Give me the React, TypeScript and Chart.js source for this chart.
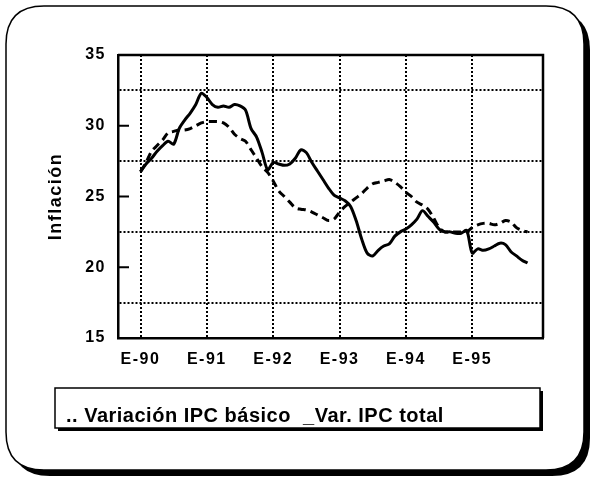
import React, { useEffect, useRef } from 'react';
import { Chart, registerables } from 'chart.js';

Chart.register(...registerables);

// Monthly values, January 1990 (index 0) to November 1995 (index 70)
const ipcBasico = [
  26.75, 27.4, 28.2, 28.6, 29.0, 29.5, 29.6, 29.7, 29.7, 29.8, 30.0, 30.2,
  30.3, 30.3, 30.3, 30.2, 29.9, 29.4, 29.1, 28.9, 28.3, 27.7, 27.1, 26.7,
  26.1, 25.4, 25.0, 24.6, 24.2, 24.1, 24.05, 23.9, 23.7, 23.5, 23.3, 23.4,
  23.9, 24.3, 24.6, 24.9, 25.2, 25.6, 25.9, 26.0, 26.1, 26.2, 26.0, 25.7,
  25.3, 25.0, 24.6, 24.4, 24.1, 23.5, 22.8, 22.5, 22.5, 22.5, 22.5, 22.5,
  22.8, 23.0, 23.1, 23.1, 23.0, 23.1, 23.3, 23.2, 22.8, 22.6, 22.5,
];
const ipcTotal = [
  26.75, 27.3, 27.7, 28.2, 28.6, 28.9, 28.7, 29.8, 30.4, 30.9, 31.5, 32.3,
  32.0, 31.5, 31.3, 31.4, 31.3, 31.5, 31.4, 31.1, 29.8, 29.2, 28.1, 26.9,
  27.4, 27.3, 27.2, 27.3, 27.7, 28.3, 28.1, 27.4, 26.8, 26.2, 25.6, 25.1,
  24.9, 24.7, 24.3, 23.3, 22.0, 21.0, 20.8, 21.2, 21.5, 21.65, 22.2, 22.5,
  22.7, 23.0, 23.4, 24.0, 23.6, 23.2, 22.7, 22.5, 22.5, 22.4, 22.4, 22.6,
  21.0, 21.3, 21.2, 21.3, 21.5, 21.7, 21.6, 21.1, 20.8, 20.5, 20.3,
];
const seriesLabels = ['Variación IPC básico', 'Var. IPC total'];
const legendMarks = ['..', '_'];
const yearTickMonths = [0, 12, 24, 36, 48, 60];
const yearTickLabels = ['E-90', 'E-91', 'E-92', 'E-93', 'E-94', 'E-95'];
const yTickValues = [15, 17.5, 20, 22.5, 25, 27.5, 30, 32.5, 35];
const yLabelValues = [15, 20, 25, 30, 35];
const yTitle = 'Inflación';

const FONT = "'Liberation Sans', Arial, sans-serif";

function roundRect(ctx: CanvasRenderingContext2D, x: number, y: number, w: number, h: number, r: number) {
  ctx.beginPath();
  ctx.moveTo(x + r, y);
  ctx.lineTo(x + w - r, y);
  ctx.quadraticCurveTo(x + w, y, x + w, y + r);
  ctx.lineTo(x + w, y + h - r);
  ctx.quadraticCurveTo(x + w, y + h, x + w - r, y + h);
  ctx.lineTo(x + r, y + h);
  ctx.quadraticCurveTo(x, y + h, x, y + h - r);
  ctx.lineTo(x, y + r);
  ctx.quadraticCurveTo(x, y, x + r, y);
  ctx.closePath();
}

const framePlugin = {
  id: 'frame',
  beforeDraw(chart: any) {
    const ctx: CanvasRenderingContext2D = chart.ctx;
    ctx.save();
    ctx.fillStyle = '#fff';
    ctx.fillRect(0, 0, chart.width, chart.height);
    // shadow
    roundRect(ctx, 12, 12, 578, 464, 38);
    ctx.fillStyle = '#000';
    ctx.fill();
    roundRect(ctx, 6, 6, 578, 464, 38);
    ctx.fillStyle = '#fff';
    ctx.fill();
    ctx.lineWidth = 1.5;
    ctx.strokeStyle = '#000';
    ctx.stroke();

    // legend box
    const lx = 55, ly = 388, lw = 485, lh = 40;
    ctx.fillStyle = '#000';
    ctx.fillRect(lx + 3, ly + 3, lw, lh);
    ctx.fillStyle = '#fff';
    ctx.fillRect(lx, ly, lw, lh);
    ctx.lineWidth = 1.5;
    ctx.strokeRect(lx, ly, lw, lh);
    ctx.fillStyle = '#000';
    ctx.font = `bold 20px ${FONT}`;
    (ctx as any).letterSpacing = '0.5px';
    ctx.textBaseline = 'alphabetic';
    ctx.textAlign = 'left';
    const labels = chart.data.datasets.map((d: any) => d.label);
    let x = lx + 11;
    const y = ly + 34;
    const t1 = legendMarks[0] + ' ' + labels[0] + '  ';
    ctx.fillText(t1, x, y);
    x += ctx.measureText(t1).width;
    const t2 = legendMarks[1] + labels[1];
    ctx.fillText(t2, x, y);
    ctx.restore();
    (ctx as any).letterSpacing = '1.5px';
  },
  afterDraw(chart: any) {
    const ctx: CanvasRenderingContext2D = chart.ctx;
    (ctx as any).letterSpacing = '0px';
    const { left, right, top, bottom } = chart.chartArea;
    const ys = chart.scales.y;
    ctx.save();
    ctx.strokeStyle = '#000';
    ctx.lineWidth = 2.5;
    ctx.beginPath();
    ctx.moveTo(left, top);
    ctx.lineTo(right, top);
    ctx.lineTo(right, bottom);
    ctx.stroke();
    ctx.lineWidth = 2;
    ctx.beginPath();
    for (const v of yLabelValues) {
      if (v === 15 || v === 35) continue;
      const py = ys.getPixelForValue(v);
      ctx.moveTo(left, py);
      ctx.lineTo(left + 11, py);
    }
    ctx.stroke();
    ctx.restore();
  },
};

export default function App() {
  const ref = useRef<HTMLCanvasElement>(null);
  useEffect(() => {
    document.body.style.margin = '0';
    const canvas = ref.current!;
    const tickFont = { family: FONT, weight: 'bold' as const, size: 16 };
    const chart = new Chart(canvas, {
      type: 'line',
      data: {
        datasets: [
          {
            label: seriesLabels[0],
            data: ipcBasico.map((v, i) => ({ x: i, y: v })),
            borderColor: '#000',
            borderWidth: 3,
            borderDash: [8, 5],
            pointRadius: 0,
            tension: 0.3,
          },
          {
            label: seriesLabels[1],
            data: ipcTotal.map((v, i) => ({ x: i, y: v })),
            borderColor: '#000',
            borderWidth: 3,
            pointRadius: 0,
            tension: 0.3,
          },
        ],
      },
      options: {
        animation: false,
        responsive: false,
        layout: { padding: { left: 0, top: 55, right: 62, bottom: 106 } },
        plugins: { legend: { display: false }, tooltip: { enabled: false } },
        scales: {
          x: {
            type: 'linear',
            min: -4.07,
            max: 72.8,
            afterBuildTicks: (s: any) => {
              s.ticks = yearTickMonths.map((v) => ({ value: v }));
            },
            afterFit: (s: any) => {
              s.height = 40;
            },
            ticks: {
              autoSkip: false,
              maxRotation: 0,
              color: '#000',
              font: tickFont,
              padding: 12,
              callback: (v: any) => {
                const i = yearTickMonths.indexOf(Number(v));
                return i >= 0 ? yearTickLabels[i] : '';
              },
            },
            grid: { color: '#000', lineWidth: 2, drawTicks: false },
            border: { display: true, color: '#000', width: 2.5, dash: [2, 2] },
          },
          y: {
            min: 15,
            max: 35,
            afterBuildTicks: (s: any) => {
              s.ticks = yTickValues.map((v) => ({ value: v }));
            },
            afterFit: (s: any) => {
              s.width = 118;
            },
            ticks: {
              color: '#000',
              font: tickFont,
              padding: 12,
              callback: (v: any) => (yLabelValues.includes(Number(v)) ? String(v) : ''),
            },
            grid: {
              color: (c: any) => (c.tick && yLabelValues.includes(c.tick.value) ? 'rgba(0,0,0,0)' : '#000'),
              lineWidth: 2,
              drawTicks: false,
            },
            border: { display: true, color: '#000', width: 2.5, dash: [2, 2] },
            title: {
              display: true,
              text: yTitle,
              color: '#000',
              font: { family: FONT, weight: 'bold', size: 18 },
              padding: { top: 45, bottom: 0 },
            },
          },
        },
      },
      plugins: [framePlugin],
    });
    return () => chart.destroy();
  }, []);
  return (
    <div style={{ width: 605, height: 484 }}>
      <canvas ref={ref} width={605} height={484} />
    </div>
  );
}
